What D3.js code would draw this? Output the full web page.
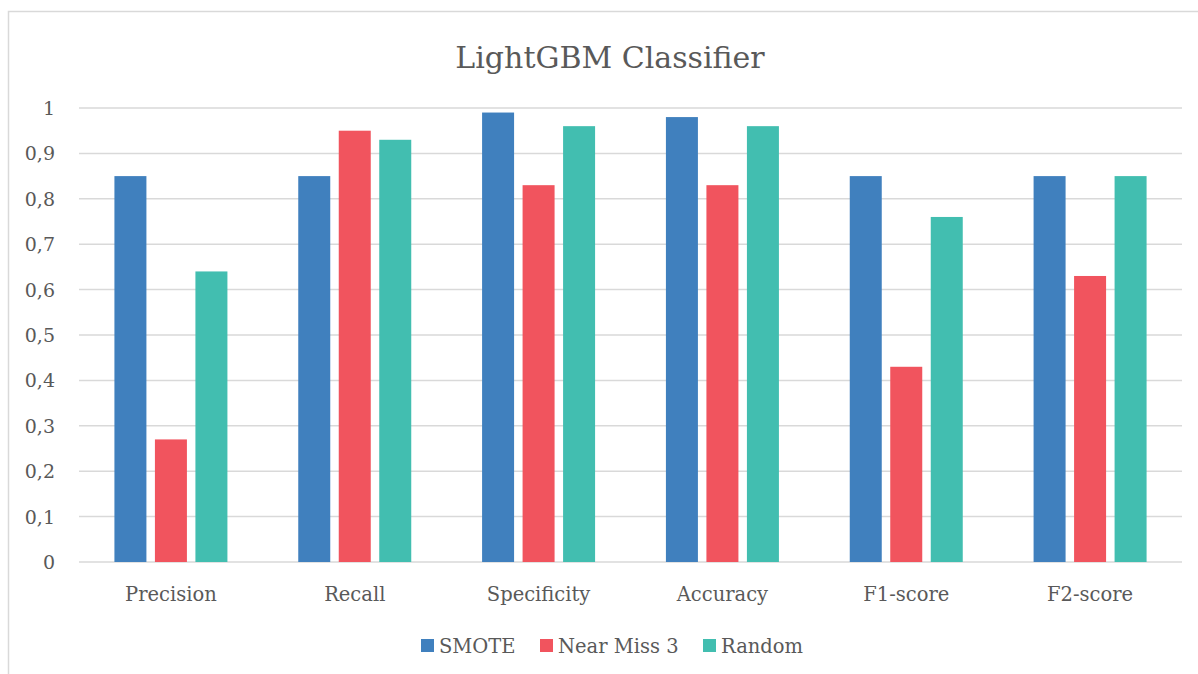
<!DOCTYPE html>
<html><head><meta charset="utf-8">
<script src="https://cdn.jsdelivr.net/npm/d3@7"></script>
<style>body{margin:0;background:#fff}svg{display:block}text{font-family:"DejaVu Serif",serif;fill:#595959}</style>
</head><body>
<script>
const categories = ["Precision","Recall","Specificity","Accuracy","F1-score","F2-score"];
const seriesNames = ["SMOTE","Near Miss 3","Random"];
const smote = [0.85,0.85,0.99,0.98,0.85,0.85];
const nearMiss3 = [0.27,0.95,0.83,0.83,0.43,0.63];
const random = [0.64,0.93,0.96,0.96,0.76,0.85];
const yTicks = [0,0.1,0.2,0.3,0.4,0.5,0.6,0.7,0.8,0.9,1];
const colors = ["#4080BE","#F1545E","#42BEB0"];
const seriesValues = [smote, nearMiss3, random];

const W=1198,H=674;
const svg=d3.select("body").append("svg").attr("width",W).attr("height",H);
svg.append("rect").attr("x",8.5).attr("y",11.5).attr("width",1200).attr("height",700).attr("fill","#fff").attr("stroke","#d9d9d9").attr("stroke-width",1.5);

const x0=79,x1=1182,yTop=108,yBot=562;
const x=d3.scaleBand().domain(categories).range([x0,x1]).paddingInner(0).paddingOuter(0);
const y=d3.scaleLinear().domain([0,1]).range([yBot,yTop]);

svg.append("g").selectAll("line").data(yTicks).join("line")
 .attr("x1",x0).attr("x2",x1).attr("y1",d=>y(d)).attr("y2",d=>y(d))
 .attr("stroke","#d9d9d9").attr("stroke-width",1.5);

const fmt=d=>d3.format(".1~f")(d).replace(".",",");
svg.append("g").selectAll("text").data(yTicks).join("text")
 .attr("x",55).attr("y",d=>y(d)+7).attr("text-anchor","end").attr("font-size",19).text(fmt);

const barW=32,gap=8.5;
const groupW=3*barW+2*gap;
seriesValues.forEach((vals,si)=>{
  svg.append("g").selectAll("rect").data(categories).join("rect")
   .attr("x",c=>x(c)+(x.bandwidth()-groupW)/2+si*(barW+gap))
   .attr("width",barW)
   .attr("y",(c,i)=>y(vals[i]))
   .attr("height",(c,i)=>y(0)-y(vals[i]))
   .attr("fill",colors[si]);
});

svg.append("g").selectAll("text").data(categories).join("text")
 .attr("x",c=>x(c)+x.bandwidth()/2).attr("y",601).attr("text-anchor","middle").attr("font-size",19.5).text(d=>d);

svg.append("text").attr("x",610).attr("y",68).attr("text-anchor","middle").attr("font-size",30).text("LightGBM Classifier");

const legX=[421,540,703];
const lg=svg.append("g");
seriesNames.forEach((n,i)=>{
  lg.append("rect").attr("x",legX[i]).attr("y",639).attr("width",13).attr("height",13).attr("fill",colors[i]);
  lg.append("text").attr("x",legX[i]+18).attr("y",653).attr("font-size",19.5).text(n);
});
</script>
</body></html>
